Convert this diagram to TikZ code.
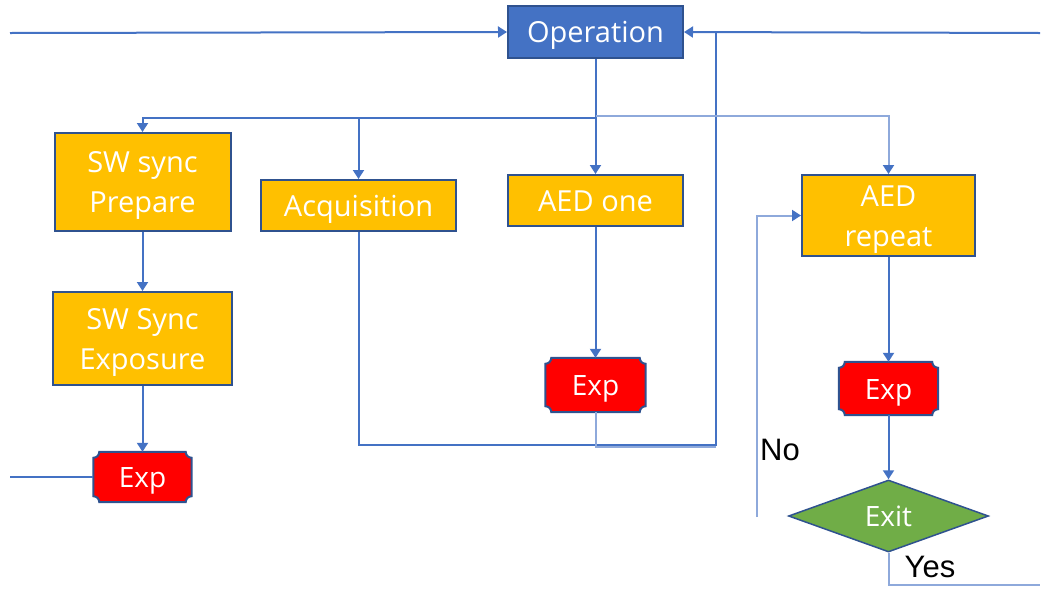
\documentclass[tikz,border=0pt]{standalone}
\usepackage{fontspec}
\setmainfont{Open Sans}
\newfontfamily\arialf{Liberation Sans}
\usetikzlibrary{arrows.meta,shapes.geometric,backgrounds}
\definecolor{lineblue}{HTML}{4472C4}
\definecolor{lightblue}{HTML}{8EA9DB}
\definecolor{borderblue}{HTML}{2F528F}
\definecolor{boxorange}{HTML}{FFC000}
\definecolor{expred}{HTML}{FF0000}
\definecolor{exitgreen}{HTML}{70AD47}
\tikzset{
  box/.style={draw=borderblue, line width=2pt, fill=boxorange, text=white, inner sep=0pt, align=center,
    font=\fontsize{29}{40}\selectfont, text height=21pt, text depth=0pt},
  twoline/.style={text height=61pt, text depth=0pt},
  opbox/.style={box, fill=lineblue},
  expbox/.style={draw=none, inner sep=0pt, text=white, font=\fontsize{28}{36}\selectfont, text height=21pt, text depth=0pt},
  decbox/.style={diamond, draw=borderblue, line width=1.5pt, fill=exitgreen, text=white, inner sep=0pt,
    font=\fontsize{28}{36}\selectfont, text height=21pt, text depth=0pt},
  conn/.style={draw=lineblue, line width=2pt},
  connl/.style={draw=lightblue, line width=2pt},
  arr/.style={-{Triangle[length=9pt,width=11pt,color=lineblue]}},
  lbl/.style={font=\arialf\fontsize{31}{36}\selectfont, text=black, inner sep=0pt},
}
\newcommand\plaque[1]{%
  \draw[draw=borderblue, line width=2pt, fill=expred]
    ([yshift=-6pt]#1.north west) arc[start angle=270, end angle=360, radius=6pt]
    -- ([xshift=-6pt]#1.north east) arc[start angle=180, end angle=270, radius=6pt]
    -- ([yshift=6pt]#1.south east) arc[start angle=90, end angle=180, radius=6pt]
    -- ([xshift=6pt]#1.south west) arc[start angle=0, end angle=90, radius=6pt]
    -- cycle;}
\begin{document}
\begin{tikzpicture}[x=1pt,y=1pt]
\useasboundingbox (0,0) rectangle (1042,-590);
% nodes
\node[opbox, minimum width=175pt, minimum height=52pt] (op) at (595.5,-32) {Operation};
\node[box, twoline, minimum width=176pt, minimum height=98pt] (swp) at (142.5,-182) {SW sync\\Prepare};
\node[box, minimum width=195pt, minimum height=51pt] (acq) at (358.5,-205.5) {Acquisition};
\node[box, minimum width=175pt, minimum height=51pt] (aed1) at (595.5,-200.5) {AED one};
\node[box, twoline, minimum width=173pt, minimum height=81pt] (aedr) at (888.5,-215.5) {AED\\repeat};
\node[box, twoline, minimum width=179pt, minimum height=93pt] (swe) at (142.5,-338.5) {SW Sync\\Exposure};
\node[expbox, minimum width=98pt, minimum height=50pt] (expl) at (142.5,-477) {Exp};
\node[expbox, minimum width=100pt, minimum height=54pt] (expm) at (595.5,-385) {Exp};
\node[expbox, minimum width=99pt, minimum height=53pt] (expr) at (888.5,-388.5) {Exp};
\node[decbox, minimum width=200pt, minimum height=72pt] (exit) at (888.5,-516) {Exit};
\node[lbl] (no) at (780,-450) {No};
\node[lbl] (yes) at (930,-567) {Yes};
\begin{scope}[on background layer]
\plaque{expl}
\plaque{expm}
\plaque{expr}
\end{scope}
% coordinates
\coordinate (inl) at (10,-33);
\coordinate (inr) at (1040,-33);
\coordinate (jr) at (716,-33);
\coordinate (jb) at (716,-445);
\coordinate (jbm) at (716,-447);
\coordinate (br) at (595.5,-118);
\coordinate (brl) at (595.5,-116);
\coordinate (inl2) at (10,-477);
\coordinate (nostart) at (757,-517);
\coordinate (yesend) at (1040,-585);
% connectors
\draw[conn, arr] (inl) -- (op.west);
\draw[conn, arr] (inr) -- (op.east);
\draw[conn] (acq.south) |- (jb) -- (jr);
\draw[conn] (op.south) -- (br);
\draw[conn, arr] (br) -| (swp.north);
\draw[conn, arr] (br) -| (acq.north);
\draw[conn, arr] (br) -- (aed1.north);
\draw[connl, arr] (brl) -| (aedr.north);
\draw[conn, arr] (swp.south) -- (swe.north);
\draw[conn, arr] (swe.south) -- (expl.north);
\draw[conn] (inl2) -- (expl.west);
\draw[conn, arr] (aed1.south) -- (expm.north);
\draw[connl] (expm.south) |- (jbm);
\draw[conn, arr] (aedr.south) -- (expr.north);
\draw[conn, arr] (expr.south) -- (exit.north);
\draw[connl, arr] (nostart) |- (aedr.west);
\draw[connl] (exit.south) |- (yesend);
\end{tikzpicture}
\end{document}
